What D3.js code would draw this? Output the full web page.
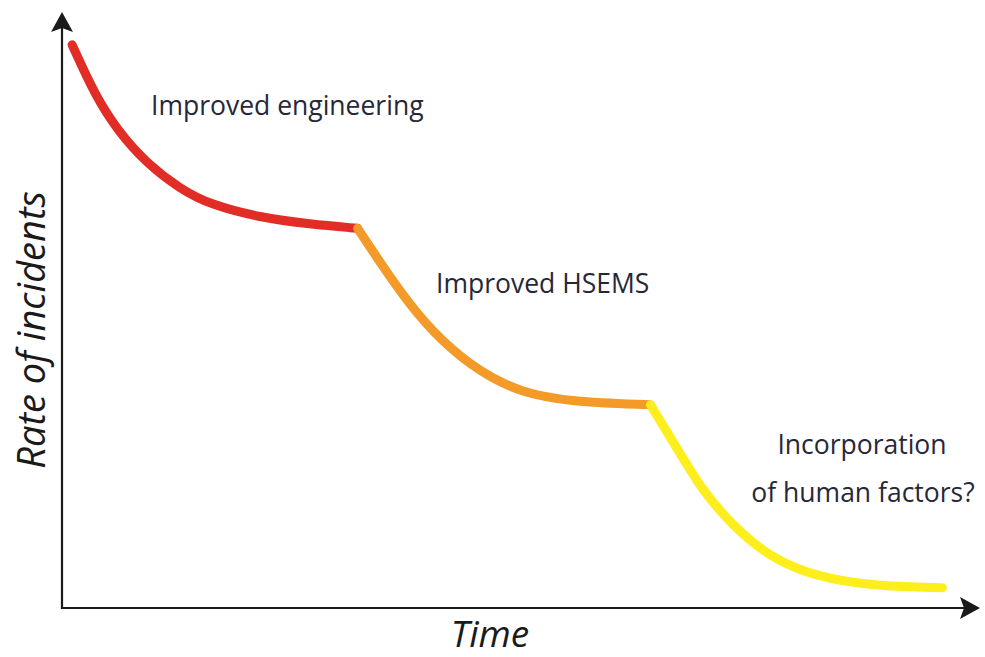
<!DOCTYPE html>
<html lang="en">
<head>
<meta charset="utf-8">
<title>Rate of incidents over time</title>
<style>
  body { margin: 0; background: #fff; }
  .seg { fill: none; stroke-width: 9px; stroke-linecap: round; stroke-linejoin: round; }
  .axis-line { stroke: #1a1a1a; stroke-width: 2.2px; }
  .label { font-family: "Open Sans", sans-serif; fill: #27273a; }
  .title { font-family: "Open Sans", sans-serif; font-style: italic; fill: #1a1a1a; }
</style>
</head>
<body>
<div id="chart"></div>
<script src="https://cdn.jsdelivr.net/npm/d3@7"></script>
<script>
// time (0-100) and rate (0-100)
var redTime     = [1.1, 3.6, 6.1, 9.3, 12.9, 16.1, 21.6, 27.0, 32.2];
var redRate     = [94.5, 86.0, 80.0, 74.5, 70.3, 67.7, 65.5, 64.4, 63.7];
var orangeTime  = [32.2, 34.6, 37.9, 41.2, 45.5, 49.9, 55.3, 64.1];
var orangeRate  = [63.7, 58.1, 50.8, 45.0, 39.6, 36.2, 34.6, 34.1];
var yellowTime  = [64.1, 67.5, 69.7, 72.8, 77.1, 82.6, 89.1, 95.9];
var yellowRate  = [34.1, 25.5, 19.9, 14.2, 8.4, 5.0, 3.6, 3.4];

var segNames  = ["Improved engineering", "Improved HSEMS", "Incorporation", "of human factors?"];
var segColors = ["#e22d26", "#f39a28", "#fdee1c"];

var width = 985, height = 657;
var margin = {top: 12, right: 5, bottom: 49, left: 62};

var svg = d3.select("#chart").append("svg")
    .attr("width", width)
    .attr("height", height);

var x = d3.scaleLinear().domain([0, 100]).range([margin.left, width - margin.right]);
var y = d3.scaleLinear().domain([0, 100]).range([height - margin.bottom, margin.top]);

var line = d3.line()
    .curve(d3.curveBasis)
    .x(function(d) { return x(d[0]); })
    .y(function(d) { return y(d[1]); });

var segs = [
  d3.zip(redTime, redRate),
  d3.zip(orangeTime, orangeRate),
  d3.zip(yellowTime, yellowRate)
];

// axes with arrow heads
var x0 = x(0), y0 = y(0);
svg.append("line").attr("class", "axis-line")
    .attr("x1", x0).attr("y1", y0 + 1).attr("x2", x0).attr("y2", y(100) + 14);
svg.append("line").attr("class", "axis-line")
    .attr("x1", x0 - 1).attr("y1", y0).attr("x2", x(100) - 14).attr("y2", y0);
svg.append("path")
    .attr("d", "M" + x0 + "," + y(100) + " L" + (x0 + 11) + "," + (y(100) + 20) +
               " L" + x0 + "," + (y(100) + 16) + " L" + (x0 - 11) + "," + (y(100) + 20) + "Z")
    .attr("fill", "#1a1a1a");
svg.append("path")
    .attr("d", "M" + x(100) + "," + y0 + " L" + (x(100) - 20) + "," + (y0 - 11) +
               " L" + (x(100) - 16) + "," + y0 + " L" + (x(100) - 20) + "," + (y0 + 11) + "Z")
    .attr("fill", "#1a1a1a");

svg.selectAll(".seg")
    .data(segs)
  .enter().append("path")
    .attr("class", "seg")
    .attr("stroke", function(d, i) { return segColors[i]; })
    .attr("d", line);

// segment labels
svg.append("text").attr("class", "label")
    .attr("x", 151).attr("y", 115).attr("font-size", 26.5)
    .text(segNames[0]);
svg.append("text").attr("class", "label")
    .attr("x", 436).attr("y", 293).attr("font-size", 26.5)
    .text(segNames[1]);
svg.append("text").attr("class", "label")
    .attr("x", 862).attr("y", 454).attr("font-size", 26.5)
    .attr("text-anchor", "middle")
    .text(segNames[2]);
svg.append("text").attr("class", "label")
    .attr("x", 863).attr("y", 502).attr("font-size", 26.5)
    .attr("text-anchor", "middle")
    .text(segNames[3]);

// axis titles
svg.append("text").attr("class", "title")
    .attr("x", 490).attr("y", 647).attr("font-size", 37)
    .attr("text-anchor", "middle")
    .text("Time");
svg.append("text").attr("class", "title")
    .attr("transform", "translate(45,330) rotate(-90)")
    .attr("font-size", 38)
    .attr("text-anchor", "middle")
    .text("Rate of incidents");
</script>
</body>
</html>
